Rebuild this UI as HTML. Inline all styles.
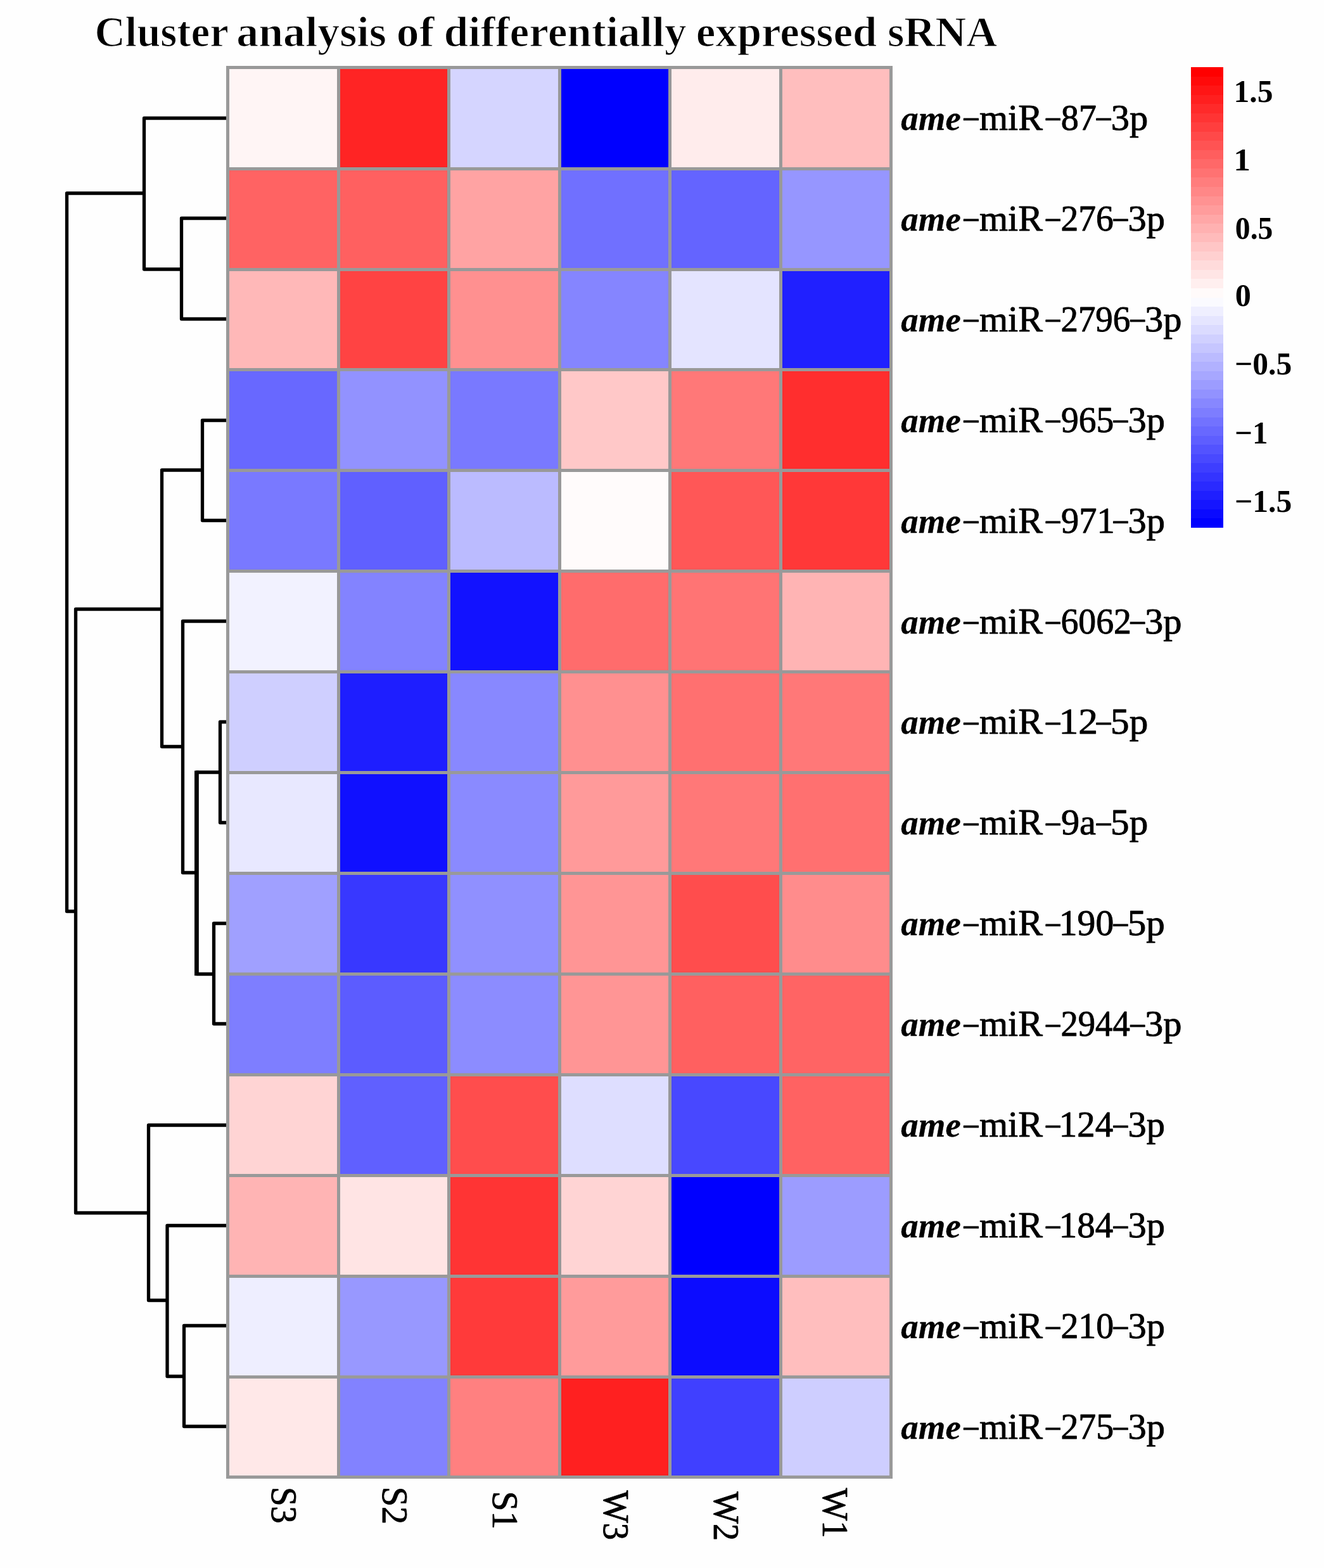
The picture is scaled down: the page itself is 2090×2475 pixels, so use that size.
<!DOCTYPE html>
<html lang="en"><head><meta charset="utf-8"><title>Cluster analysis of differentially expressed sRNA</title>
<style>
html,body{margin:0;padding:0;background:#fff;}
body{width:2090px;height:2475px;overflow:hidden;}
svg{display:block;}
text{font-family:"Liberation Serif",serif;fill:#000;}
.b{font-weight:bold;}
.bi{font-weight:bold;font-style:italic;}
.d{fill:none;stroke:#000;stroke-width:5.3;stroke-linejoin:round;stroke-linecap:butt;}
</style></head><body>
<svg width="2090" height="2475" viewBox="0 0 2090 2475">
<rect x="0" y="0" width="2090" height="2475" fill="#fefefe"/>
<text><tspan class="b" font-size="67.5" stroke="#fefefe" stroke-width="1.20" stroke-linejoin="round" x="149.39" y="72.90" textLength="211.46" lengthAdjust="spacingAndGlyphs">Cluster</tspan> <tspan class="b" font-size="67.5" stroke="#fefefe" stroke-width="1.20" stroke-linejoin="round" x="373.31" y="72.90" textLength="236.58" lengthAdjust="spacingAndGlyphs">analysis</tspan> <tspan class="b" font-size="67.5" stroke="#fefefe" stroke-width="1.20" stroke-linejoin="round" x="625.89" y="72.90" textLength="59.65" lengthAdjust="spacingAndGlyphs">of</tspan> <tspan class="b" font-size="67.5" stroke="#fefefe" stroke-width="1.20" stroke-linejoin="round" x="700.83" y="72.90" textLength="382.71" lengthAdjust="spacingAndGlyphs">differentially</tspan> <tspan class="b" font-size="67.5" stroke="#fefefe" stroke-width="1.20" stroke-linejoin="round" x="1098.73" y="72.90" textLength="285.53" lengthAdjust="spacingAndGlyphs">expressed</tspan> <tspan class="b" font-size="67.5" stroke="#fefefe" stroke-width="1.20" stroke-linejoin="round" x="1400.97" y="72.90" textLength="173.22" lengthAdjust="spacingAndGlyphs">sRNA</tspan></text>
<g shape-rendering="crispEdges">
<rect x="359.5" y="106.5" width="175.0" height="160.0" fill="#FFF5F5"/>
<rect x="534.5" y="106.5" width="174.0" height="160.0" fill="#FF2424"/>
<rect x="708.5" y="106.5" width="175.0" height="160.0" fill="#D5D5FF"/>
<rect x="883.5" y="106.5" width="174.0" height="160.0" fill="#0000FF"/>
<rect x="1057.5" y="106.5" width="175.0" height="160.0" fill="#FFECEC"/>
<rect x="1232.5" y="106.5" width="174.0" height="160.0" fill="#FFBEBE"/>
<rect x="359.5" y="266.5" width="175.0" height="159.0" fill="#FF6363"/>
<rect x="534.5" y="266.5" width="174.0" height="159.0" fill="#FF6060"/>
<rect x="708.5" y="266.5" width="175.0" height="159.0" fill="#FFA3A3"/>
<rect x="883.5" y="266.5" width="174.0" height="159.0" fill="#7070FF"/>
<rect x="1057.5" y="266.5" width="175.0" height="159.0" fill="#6464FF"/>
<rect x="1232.5" y="266.5" width="174.0" height="159.0" fill="#9696FF"/>
<rect x="359.5" y="425.5" width="175.0" height="158.0" fill="#FFB8B8"/>
<rect x="534.5" y="425.5" width="174.0" height="158.0" fill="#FF4343"/>
<rect x="708.5" y="425.5" width="175.0" height="158.0" fill="#FF9090"/>
<rect x="883.5" y="425.5" width="174.0" height="158.0" fill="#8585FF"/>
<rect x="1057.5" y="425.5" width="175.0" height="158.0" fill="#E4E4FF"/>
<rect x="1232.5" y="425.5" width="174.0" height="158.0" fill="#2020FF"/>
<rect x="359.5" y="583.5" width="175.0" height="159.0" fill="#6868FF"/>
<rect x="534.5" y="583.5" width="174.0" height="159.0" fill="#9292FF"/>
<rect x="708.5" y="583.5" width="175.0" height="159.0" fill="#7979FF"/>
<rect x="883.5" y="583.5" width="174.0" height="159.0" fill="#FFC8C8"/>
<rect x="1057.5" y="583.5" width="175.0" height="159.0" fill="#FF7878"/>
<rect x="1232.5" y="583.5" width="174.0" height="159.0" fill="#FF2E2E"/>
<rect x="359.5" y="742.5" width="175.0" height="159.0" fill="#7979FF"/>
<rect x="534.5" y="742.5" width="174.0" height="159.0" fill="#6060FF"/>
<rect x="708.5" y="742.5" width="175.0" height="159.0" fill="#BBBBFF"/>
<rect x="883.5" y="742.5" width="174.0" height="159.0" fill="#FFFBFB"/>
<rect x="1057.5" y="742.5" width="175.0" height="159.0" fill="#FF5757"/>
<rect x="1232.5" y="742.5" width="174.0" height="159.0" fill="#FF3838"/>
<rect x="359.5" y="901.5" width="175.0" height="159.0" fill="#F2F2FF"/>
<rect x="534.5" y="901.5" width="174.0" height="159.0" fill="#8383FF"/>
<rect x="708.5" y="901.5" width="175.0" height="159.0" fill="#1212FF"/>
<rect x="883.5" y="901.5" width="174.0" height="159.0" fill="#FF6C6C"/>
<rect x="1057.5" y="901.5" width="175.0" height="159.0" fill="#FF7474"/>
<rect x="1232.5" y="901.5" width="174.0" height="159.0" fill="#FFB4B4"/>
<rect x="359.5" y="1060.5" width="175.0" height="159.0" fill="#CFCFFF"/>
<rect x="534.5" y="1060.5" width="174.0" height="159.0" fill="#1E1EFF"/>
<rect x="708.5" y="1060.5" width="175.0" height="159.0" fill="#8888FF"/>
<rect x="883.5" y="1060.5" width="174.0" height="159.0" fill="#FF9090"/>
<rect x="1057.5" y="1060.5" width="175.0" height="159.0" fill="#FF7070"/>
<rect x="1232.5" y="1060.5" width="174.0" height="159.0" fill="#FF7878"/>
<rect x="359.5" y="1219.5" width="175.0" height="159.0" fill="#E8E8FF"/>
<rect x="534.5" y="1219.5" width="174.0" height="159.0" fill="#1010FF"/>
<rect x="708.5" y="1219.5" width="175.0" height="159.0" fill="#8A8AFF"/>
<rect x="883.5" y="1219.5" width="174.0" height="159.0" fill="#FF9A9A"/>
<rect x="1057.5" y="1219.5" width="175.0" height="159.0" fill="#FF7878"/>
<rect x="1232.5" y="1219.5" width="174.0" height="159.0" fill="#FF7070"/>
<rect x="359.5" y="1378.5" width="175.0" height="159.0" fill="#A0A0FF"/>
<rect x="534.5" y="1378.5" width="174.0" height="159.0" fill="#3838FF"/>
<rect x="708.5" y="1378.5" width="175.0" height="159.0" fill="#9090FF"/>
<rect x="883.5" y="1378.5" width="174.0" height="159.0" fill="#FF9595"/>
<rect x="1057.5" y="1378.5" width="175.0" height="159.0" fill="#FF4D4D"/>
<rect x="1232.5" y="1378.5" width="174.0" height="159.0" fill="#FF8C8C"/>
<rect x="359.5" y="1537.5" width="175.0" height="159.0" fill="#7E7EFF"/>
<rect x="534.5" y="1537.5" width="174.0" height="159.0" fill="#5C5CFF"/>
<rect x="708.5" y="1537.5" width="175.0" height="159.0" fill="#8C8CFF"/>
<rect x="883.5" y="1537.5" width="174.0" height="159.0" fill="#FF9595"/>
<rect x="1057.5" y="1537.5" width="175.0" height="159.0" fill="#FF6060"/>
<rect x="1232.5" y="1537.5" width="174.0" height="159.0" fill="#FF6464"/>
<rect x="359.5" y="1696.5" width="175.0" height="159.0" fill="#FFD4D4"/>
<rect x="534.5" y="1696.5" width="174.0" height="159.0" fill="#6060FF"/>
<rect x="708.5" y="1696.5" width="175.0" height="159.0" fill="#FF4D4D"/>
<rect x="883.5" y="1696.5" width="174.0" height="159.0" fill="#DEDEFF"/>
<rect x="1057.5" y="1696.5" width="175.0" height="159.0" fill="#4848FF"/>
<rect x="1232.5" y="1696.5" width="174.0" height="159.0" fill="#FF6262"/>
<rect x="359.5" y="1855.5" width="175.0" height="159.0" fill="#FFB4B4"/>
<rect x="534.5" y="1855.5" width="174.0" height="159.0" fill="#FFE4E4"/>
<rect x="708.5" y="1855.5" width="175.0" height="159.0" fill="#FF3434"/>
<rect x="883.5" y="1855.5" width="174.0" height="159.0" fill="#FFD4D4"/>
<rect x="1057.5" y="1855.5" width="175.0" height="159.0" fill="#0000FF"/>
<rect x="1232.5" y="1855.5" width="174.0" height="159.0" fill="#9C9CFF"/>
<rect x="359.5" y="2014.5" width="175.0" height="159.0" fill="#EEEEFF"/>
<rect x="534.5" y="2014.5" width="174.0" height="159.0" fill="#9898FF"/>
<rect x="708.5" y="2014.5" width="175.0" height="159.0" fill="#FF3A3A"/>
<rect x="883.5" y="2014.5" width="174.0" height="159.0" fill="#FF9B9B"/>
<rect x="1057.5" y="2014.5" width="175.0" height="159.0" fill="#0C0CFF"/>
<rect x="1232.5" y="2014.5" width="174.0" height="159.0" fill="#FFBEBE"/>
<rect x="359.5" y="2173.5" width="175.0" height="158.0" fill="#FFE8E8"/>
<rect x="534.5" y="2173.5" width="174.0" height="158.0" fill="#8282FF"/>
<rect x="708.5" y="2173.5" width="175.0" height="158.0" fill="#FF8080"/>
<rect x="883.5" y="2173.5" width="174.0" height="158.0" fill="#FF2020"/>
<rect x="1057.5" y="2173.5" width="175.0" height="158.0" fill="#4040FF"/>
<rect x="1232.5" y="2173.5" width="174.0" height="158.0" fill="#CECEFF"/>
<path d="M359.5 104.0V2334.0M534.5 104.0V2334.0M708.5 104.0V2334.0M883.5 104.0V2334.0M1057.5 104.0V2334.0M1232.5 104.0V2334.0M1406.5 104.0V2334.0M357.0 106.5H1409.0M357.0 266.5H1409.0M357.0 425.5H1409.0M357.0 583.5H1409.0M357.0 742.5H1409.0M357.0 901.5H1409.0M357.0 1060.5H1409.0M357.0 1219.5H1409.0M357.0 1378.5H1409.0M357.0 1537.5H1409.0M357.0 1696.5H1409.0M357.0 1855.5H1409.0M357.0 2014.5H1409.0M357.0 2173.5H1409.0M357.0 2331.5H1409.0" fill="none" stroke="#999999" stroke-width="5"/>
</g>
<path class="d" d="M357.0 344.5H286.5V503.5H357.0M357.0 186.5H227.5V425.0H286.5M357.0 663.5H319.5V821.5H357.0M357.0 1139.5H347.5V1298.5H357.0M357.0 1457.5H337.5V1616.0H357.0M347.5 1219.0H310.5V1537.5H337.5M357.0 980.5H288.5V1377.5H310.5M319.5 742.0H255.5V1178.5H288.5M357.0 2092.5H290.5V2251.5H357.0M357.0 1934.5H264.0V2172.5H290.5M357.0 1776.0H234.5V2052.5H264.0M255.5 961.5H119.5V1914.5H234.5M227.5 305.0H105.5V1438.5H119.5"/>
<path d="M310.4 1216.5V1540" fill="none" stroke="#000" stroke-width="6.8"/>
<text><tspan class="bi" font-size="54.0" stroke="#000" stroke-width="0.30" stroke-linejoin="round" x="1422.30" y="204.86" textLength="94.48" lengthAdjust="spacingAndGlyphs">ame</tspan><tspan font-size="57.0" stroke="#000" stroke-width="0.90" stroke-linejoin="round" x="1518.57" y="207.46" textLength="28.61" lengthAdjust="spacingAndGlyphs">−</tspan><tspan font-size="57.0" stroke="#000" stroke-width="0.90" stroke-linejoin="round" x="1545.99" y="204.86" textLength="99.89" lengthAdjust="spacingAndGlyphs">miR</tspan><tspan font-size="57.0" stroke="#000" stroke-width="0.90" stroke-linejoin="round" x="1648.13" y="207.46" textLength="27.78" lengthAdjust="spacingAndGlyphs">−</tspan><tspan font-size="57.0" stroke="#000" stroke-width="0.90" stroke-linejoin="round" x="1674.68" y="204.86" textLength="56.28" lengthAdjust="spacingAndGlyphs">87</tspan><tspan font-size="57.0" stroke="#000" stroke-width="0.90" stroke-linejoin="round" x="1728.10" y="207.46" textLength="28.14" lengthAdjust="spacingAndGlyphs">−</tspan><tspan font-size="57.0" stroke="#000" stroke-width="0.90" stroke-linejoin="round" x="1753.72" y="204.86" textLength="58.48" lengthAdjust="spacingAndGlyphs">3p</tspan></text>
<text><tspan class="bi" font-size="54.0" stroke="#000" stroke-width="0.30" stroke-linejoin="round" x="1422.30" y="363.79" textLength="94.48" lengthAdjust="spacingAndGlyphs">ame</tspan><tspan font-size="57.0" stroke="#000" stroke-width="0.90" stroke-linejoin="round" x="1518.57" y="366.39" textLength="28.61" lengthAdjust="spacingAndGlyphs">−</tspan><tspan font-size="57.0" stroke="#000" stroke-width="0.90" stroke-linejoin="round" x="1545.99" y="363.79" textLength="99.89" lengthAdjust="spacingAndGlyphs">miR</tspan><tspan font-size="57.0" stroke="#000" stroke-width="0.90" stroke-linejoin="round" x="1648.13" y="366.39" textLength="27.78" lengthAdjust="spacingAndGlyphs">−</tspan><tspan font-size="57.0" stroke="#000" stroke-width="0.90" stroke-linejoin="round" x="1674.43" y="363.79" textLength="83.21" lengthAdjust="spacingAndGlyphs">276</tspan><tspan font-size="57.0" stroke="#000" stroke-width="0.90" stroke-linejoin="round" x="1754.80" y="366.39" textLength="28.14" lengthAdjust="spacingAndGlyphs">−</tspan><tspan font-size="57.0" stroke="#000" stroke-width="0.90" stroke-linejoin="round" x="1780.42" y="363.79" textLength="58.48" lengthAdjust="spacingAndGlyphs">3p</tspan></text>
<text><tspan class="bi" font-size="54.0" stroke="#000" stroke-width="0.30" stroke-linejoin="round" x="1422.30" y="522.72" textLength="94.48" lengthAdjust="spacingAndGlyphs">ame</tspan><tspan font-size="57.0" stroke="#000" stroke-width="0.90" stroke-linejoin="round" x="1518.57" y="525.32" textLength="28.61" lengthAdjust="spacingAndGlyphs">−</tspan><tspan font-size="57.0" stroke="#000" stroke-width="0.90" stroke-linejoin="round" x="1545.99" y="522.72" textLength="99.89" lengthAdjust="spacingAndGlyphs">miR</tspan><tspan font-size="57.0" stroke="#000" stroke-width="0.90" stroke-linejoin="round" x="1648.13" y="525.32" textLength="27.78" lengthAdjust="spacingAndGlyphs">−</tspan><tspan font-size="57.0" stroke="#000" stroke-width="0.90" stroke-linejoin="round" x="1674.45" y="522.72" textLength="109.87" lengthAdjust="spacingAndGlyphs">2796</tspan><tspan font-size="57.0" stroke="#000" stroke-width="0.90" stroke-linejoin="round" x="1781.50" y="525.32" textLength="28.14" lengthAdjust="spacingAndGlyphs">−</tspan><tspan font-size="57.0" stroke="#000" stroke-width="0.90" stroke-linejoin="round" x="1807.12" y="522.72" textLength="58.48" lengthAdjust="spacingAndGlyphs">3p</tspan></text>
<text><tspan class="bi" font-size="54.0" stroke="#000" stroke-width="0.30" stroke-linejoin="round" x="1422.30" y="681.65" textLength="94.48" lengthAdjust="spacingAndGlyphs">ame</tspan><tspan font-size="57.0" stroke="#000" stroke-width="0.90" stroke-linejoin="round" x="1518.57" y="684.25" textLength="28.61" lengthAdjust="spacingAndGlyphs">−</tspan><tspan font-size="57.0" stroke="#000" stroke-width="0.90" stroke-linejoin="round" x="1545.99" y="681.65" textLength="99.89" lengthAdjust="spacingAndGlyphs">miR</tspan><tspan font-size="57.0" stroke="#000" stroke-width="0.90" stroke-linejoin="round" x="1648.13" y="684.25" textLength="27.78" lengthAdjust="spacingAndGlyphs">−</tspan><tspan font-size="57.0" stroke="#000" stroke-width="0.90" stroke-linejoin="round" x="1674.99" y="681.65" textLength="83.21" lengthAdjust="spacingAndGlyphs">965</tspan><tspan font-size="57.0" stroke="#000" stroke-width="0.90" stroke-linejoin="round" x="1754.80" y="684.25" textLength="28.14" lengthAdjust="spacingAndGlyphs">−</tspan><tspan font-size="57.0" stroke="#000" stroke-width="0.90" stroke-linejoin="round" x="1780.42" y="681.65" textLength="58.48" lengthAdjust="spacingAndGlyphs">3p</tspan></text>
<text><tspan class="bi" font-size="54.0" stroke="#000" stroke-width="0.30" stroke-linejoin="round" x="1422.30" y="840.58" textLength="94.48" lengthAdjust="spacingAndGlyphs">ame</tspan><tspan font-size="57.0" stroke="#000" stroke-width="0.90" stroke-linejoin="round" x="1518.57" y="843.18" textLength="28.61" lengthAdjust="spacingAndGlyphs">−</tspan><tspan font-size="57.0" stroke="#000" stroke-width="0.90" stroke-linejoin="round" x="1545.99" y="840.58" textLength="99.89" lengthAdjust="spacingAndGlyphs">miR</tspan><tspan font-size="57.0" stroke="#000" stroke-width="0.90" stroke-linejoin="round" x="1648.13" y="843.18" textLength="27.78" lengthAdjust="spacingAndGlyphs">−</tspan><tspan font-size="57.0" stroke="#000" stroke-width="0.90" stroke-linejoin="round" x="1674.96" y="840.58" textLength="84.68" lengthAdjust="spacingAndGlyphs">971</tspan><tspan font-size="57.0" stroke="#000" stroke-width="0.90" stroke-linejoin="round" x="1754.80" y="843.18" textLength="28.14" lengthAdjust="spacingAndGlyphs">−</tspan><tspan font-size="57.0" stroke="#000" stroke-width="0.90" stroke-linejoin="round" x="1780.42" y="840.58" textLength="58.48" lengthAdjust="spacingAndGlyphs">3p</tspan></text>
<text><tspan class="bi" font-size="54.0" stroke="#000" stroke-width="0.30" stroke-linejoin="round" x="1422.30" y="999.51" textLength="94.48" lengthAdjust="spacingAndGlyphs">ame</tspan><tspan font-size="57.0" stroke="#000" stroke-width="0.90" stroke-linejoin="round" x="1518.57" y="1002.11" textLength="28.61" lengthAdjust="spacingAndGlyphs">−</tspan><tspan font-size="57.0" stroke="#000" stroke-width="0.90" stroke-linejoin="round" x="1545.99" y="999.51" textLength="99.89" lengthAdjust="spacingAndGlyphs">miR</tspan><tspan font-size="57.0" stroke="#000" stroke-width="0.90" stroke-linejoin="round" x="1648.13" y="1002.11" textLength="27.78" lengthAdjust="spacingAndGlyphs">−</tspan><tspan font-size="57.0" stroke="#000" stroke-width="0.90" stroke-linejoin="round" x="1674.42" y="999.51" textLength="111.60" lengthAdjust="spacingAndGlyphs">6062</tspan><tspan font-size="57.0" stroke="#000" stroke-width="0.90" stroke-linejoin="round" x="1781.50" y="1002.11" textLength="28.14" lengthAdjust="spacingAndGlyphs">−</tspan><tspan font-size="57.0" stroke="#000" stroke-width="0.90" stroke-linejoin="round" x="1807.12" y="999.51" textLength="58.48" lengthAdjust="spacingAndGlyphs">3p</tspan></text>
<text><tspan class="bi" font-size="54.0" stroke="#000" stroke-width="0.30" stroke-linejoin="round" x="1422.30" y="1158.44" textLength="94.48" lengthAdjust="spacingAndGlyphs">ame</tspan><tspan font-size="57.0" stroke="#000" stroke-width="0.90" stroke-linejoin="round" x="1518.57" y="1161.04" textLength="28.61" lengthAdjust="spacingAndGlyphs">−</tspan><tspan font-size="57.0" stroke="#000" stroke-width="0.90" stroke-linejoin="round" x="1545.99" y="1158.44" textLength="99.89" lengthAdjust="spacingAndGlyphs">miR</tspan><tspan font-size="57.0" stroke="#000" stroke-width="0.90" stroke-linejoin="round" x="1648.13" y="1161.04" textLength="27.78" lengthAdjust="spacingAndGlyphs">−</tspan><tspan font-size="57.0" stroke="#000" stroke-width="0.90" stroke-linejoin="round" x="1671.42" y="1158.44" textLength="61.51" lengthAdjust="spacingAndGlyphs">12</tspan><tspan font-size="57.0" stroke="#000" stroke-width="0.90" stroke-linejoin="round" x="1728.10" y="1161.04" textLength="28.14" lengthAdjust="spacingAndGlyphs">−</tspan><tspan font-size="57.0" stroke="#000" stroke-width="0.90" stroke-linejoin="round" x="1753.10" y="1158.44" textLength="59.12" lengthAdjust="spacingAndGlyphs">5p</tspan></text>
<text><tspan class="bi" font-size="54.0" stroke="#000" stroke-width="0.30" stroke-linejoin="round" x="1422.30" y="1317.36" textLength="94.48" lengthAdjust="spacingAndGlyphs">ame</tspan><tspan font-size="57.0" stroke="#000" stroke-width="0.90" stroke-linejoin="round" x="1518.57" y="1319.96" textLength="28.61" lengthAdjust="spacingAndGlyphs">−</tspan><tspan font-size="57.0" stroke="#000" stroke-width="0.90" stroke-linejoin="round" x="1545.99" y="1317.36" textLength="99.89" lengthAdjust="spacingAndGlyphs">miR</tspan><tspan font-size="57.0" stroke="#000" stroke-width="0.90" stroke-linejoin="round" x="1648.13" y="1319.96" textLength="27.78" lengthAdjust="spacingAndGlyphs">−</tspan><tspan font-size="57.0" stroke="#000" stroke-width="0.90" stroke-linejoin="round" x="1674.90" y="1317.36" textLength="55.17" lengthAdjust="spacingAndGlyphs">9a</tspan><tspan font-size="57.0" stroke="#000" stroke-width="0.90" stroke-linejoin="round" x="1728.10" y="1319.96" textLength="28.14" lengthAdjust="spacingAndGlyphs">−</tspan><tspan font-size="57.0" stroke="#000" stroke-width="0.90" stroke-linejoin="round" x="1753.10" y="1317.36" textLength="59.12" lengthAdjust="spacingAndGlyphs">5p</tspan></text>
<text><tspan class="bi" font-size="54.0" stroke="#000" stroke-width="0.30" stroke-linejoin="round" x="1422.30" y="1476.29" textLength="94.48" lengthAdjust="spacingAndGlyphs">ame</tspan><tspan font-size="57.0" stroke="#000" stroke-width="0.90" stroke-linejoin="round" x="1518.57" y="1478.89" textLength="28.61" lengthAdjust="spacingAndGlyphs">−</tspan><tspan font-size="57.0" stroke="#000" stroke-width="0.90" stroke-linejoin="round" x="1545.99" y="1476.29" textLength="99.89" lengthAdjust="spacingAndGlyphs">miR</tspan><tspan font-size="57.0" stroke="#000" stroke-width="0.90" stroke-linejoin="round" x="1648.13" y="1478.89" textLength="27.78" lengthAdjust="spacingAndGlyphs">−</tspan><tspan font-size="57.0" stroke="#000" stroke-width="0.90" stroke-linejoin="round" x="1671.75" y="1476.29" textLength="86.52" lengthAdjust="spacingAndGlyphs">190</tspan><tspan font-size="57.0" stroke="#000" stroke-width="0.90" stroke-linejoin="round" x="1754.80" y="1478.89" textLength="28.14" lengthAdjust="spacingAndGlyphs">−</tspan><tspan font-size="57.0" stroke="#000" stroke-width="0.90" stroke-linejoin="round" x="1779.80" y="1476.29" textLength="59.12" lengthAdjust="spacingAndGlyphs">5p</tspan></text>
<text><tspan class="bi" font-size="54.0" stroke="#000" stroke-width="0.30" stroke-linejoin="round" x="1422.30" y="1635.22" textLength="94.48" lengthAdjust="spacingAndGlyphs">ame</tspan><tspan font-size="57.0" stroke="#000" stroke-width="0.90" stroke-linejoin="round" x="1518.57" y="1637.82" textLength="28.61" lengthAdjust="spacingAndGlyphs">−</tspan><tspan font-size="57.0" stroke="#000" stroke-width="0.90" stroke-linejoin="round" x="1545.99" y="1635.22" textLength="99.89" lengthAdjust="spacingAndGlyphs">miR</tspan><tspan font-size="57.0" stroke="#000" stroke-width="0.90" stroke-linejoin="round" x="1648.13" y="1637.82" textLength="27.78" lengthAdjust="spacingAndGlyphs">−</tspan><tspan font-size="57.0" stroke="#000" stroke-width="0.90" stroke-linejoin="round" x="1674.46" y="1635.22" textLength="109.31" lengthAdjust="spacingAndGlyphs">2944</tspan><tspan font-size="57.0" stroke="#000" stroke-width="0.90" stroke-linejoin="round" x="1781.50" y="1637.82" textLength="28.14" lengthAdjust="spacingAndGlyphs">−</tspan><tspan font-size="57.0" stroke="#000" stroke-width="0.90" stroke-linejoin="round" x="1807.12" y="1635.22" textLength="58.48" lengthAdjust="spacingAndGlyphs">3p</tspan></text>
<text><tspan class="bi" font-size="54.0" stroke="#000" stroke-width="0.30" stroke-linejoin="round" x="1422.30" y="1794.15" textLength="94.48" lengthAdjust="spacingAndGlyphs">ame</tspan><tspan font-size="57.0" stroke="#000" stroke-width="0.90" stroke-linejoin="round" x="1518.57" y="1796.75" textLength="28.61" lengthAdjust="spacingAndGlyphs">−</tspan><tspan font-size="57.0" stroke="#000" stroke-width="0.90" stroke-linejoin="round" x="1545.99" y="1794.15" textLength="99.89" lengthAdjust="spacingAndGlyphs">miR</tspan><tspan font-size="57.0" stroke="#000" stroke-width="0.90" stroke-linejoin="round" x="1648.13" y="1796.75" textLength="27.78" lengthAdjust="spacingAndGlyphs">−</tspan><tspan font-size="57.0" stroke="#000" stroke-width="0.90" stroke-linejoin="round" x="1671.82" y="1794.15" textLength="85.29" lengthAdjust="spacingAndGlyphs">124</tspan><tspan font-size="57.0" stroke="#000" stroke-width="0.90" stroke-linejoin="round" x="1754.80" y="1796.75" textLength="28.14" lengthAdjust="spacingAndGlyphs">−</tspan><tspan font-size="57.0" stroke="#000" stroke-width="0.90" stroke-linejoin="round" x="1780.42" y="1794.15" textLength="58.48" lengthAdjust="spacingAndGlyphs">3p</tspan></text>
<text><tspan class="bi" font-size="54.0" stroke="#000" stroke-width="0.30" stroke-linejoin="round" x="1422.30" y="1953.08" textLength="94.48" lengthAdjust="spacingAndGlyphs">ame</tspan><tspan font-size="57.0" stroke="#000" stroke-width="0.90" stroke-linejoin="round" x="1518.57" y="1955.68" textLength="28.61" lengthAdjust="spacingAndGlyphs">−</tspan><tspan font-size="57.0" stroke="#000" stroke-width="0.90" stroke-linejoin="round" x="1545.99" y="1953.08" textLength="99.89" lengthAdjust="spacingAndGlyphs">miR</tspan><tspan font-size="57.0" stroke="#000" stroke-width="0.90" stroke-linejoin="round" x="1648.13" y="1955.68" textLength="27.78" lengthAdjust="spacingAndGlyphs">−</tspan><tspan font-size="57.0" stroke="#000" stroke-width="0.90" stroke-linejoin="round" x="1671.82" y="1953.08" textLength="85.29" lengthAdjust="spacingAndGlyphs">184</tspan><tspan font-size="57.0" stroke="#000" stroke-width="0.90" stroke-linejoin="round" x="1754.80" y="1955.68" textLength="28.14" lengthAdjust="spacingAndGlyphs">−</tspan><tspan font-size="57.0" stroke="#000" stroke-width="0.90" stroke-linejoin="round" x="1780.42" y="1953.08" textLength="58.48" lengthAdjust="spacingAndGlyphs">3p</tspan></text>
<text><tspan class="bi" font-size="54.0" stroke="#000" stroke-width="0.30" stroke-linejoin="round" x="1422.30" y="2112.01" textLength="94.48" lengthAdjust="spacingAndGlyphs">ame</tspan><tspan font-size="57.0" stroke="#000" stroke-width="0.90" stroke-linejoin="round" x="1518.57" y="2114.61" textLength="28.61" lengthAdjust="spacingAndGlyphs">−</tspan><tspan font-size="57.0" stroke="#000" stroke-width="0.90" stroke-linejoin="round" x="1545.99" y="2112.01" textLength="99.89" lengthAdjust="spacingAndGlyphs">miR</tspan><tspan font-size="57.0" stroke="#000" stroke-width="0.90" stroke-linejoin="round" x="1648.13" y="2114.61" textLength="27.78" lengthAdjust="spacingAndGlyphs">−</tspan><tspan font-size="57.0" stroke="#000" stroke-width="0.90" stroke-linejoin="round" x="1674.42" y="2112.01" textLength="83.79" lengthAdjust="spacingAndGlyphs">210</tspan><tspan font-size="57.0" stroke="#000" stroke-width="0.90" stroke-linejoin="round" x="1754.80" y="2114.61" textLength="28.14" lengthAdjust="spacingAndGlyphs">−</tspan><tspan font-size="57.0" stroke="#000" stroke-width="0.90" stroke-linejoin="round" x="1780.42" y="2112.01" textLength="58.48" lengthAdjust="spacingAndGlyphs">3p</tspan></text>
<text><tspan class="bi" font-size="54.0" stroke="#000" stroke-width="0.30" stroke-linejoin="round" x="1422.30" y="2270.94" textLength="94.48" lengthAdjust="spacingAndGlyphs">ame</tspan><tspan font-size="57.0" stroke="#000" stroke-width="0.90" stroke-linejoin="round" x="1518.57" y="2273.54" textLength="28.61" lengthAdjust="spacingAndGlyphs">−</tspan><tspan font-size="57.0" stroke="#000" stroke-width="0.90" stroke-linejoin="round" x="1545.99" y="2270.94" textLength="99.89" lengthAdjust="spacingAndGlyphs">miR</tspan><tspan font-size="57.0" stroke="#000" stroke-width="0.90" stroke-linejoin="round" x="1648.13" y="2273.54" textLength="27.78" lengthAdjust="spacingAndGlyphs">−</tspan><tspan font-size="57.0" stroke="#000" stroke-width="0.90" stroke-linejoin="round" x="1674.42" y="2270.94" textLength="83.79" lengthAdjust="spacingAndGlyphs">275</tspan><tspan font-size="57.0" stroke="#000" stroke-width="0.90" stroke-linejoin="round" x="1754.80" y="2273.54" textLength="28.14" lengthAdjust="spacingAndGlyphs">−</tspan><tspan font-size="57.0" stroke="#000" stroke-width="0.90" stroke-linejoin="round" x="1780.42" y="2270.94" textLength="58.48" lengthAdjust="spacingAndGlyphs">3p</tspan></text>
<text font-size="57.0" stroke="#000" stroke-width="0.90" stroke-linejoin="round" transform="translate(429.30 2346.89) rotate(90)" textLength="57.88" lengthAdjust="spacingAndGlyphs">S3</text>
<text font-size="57.0" stroke="#000" stroke-width="0.90" stroke-linejoin="round" transform="translate(604.00 2346.80) rotate(90)" textLength="59.34" lengthAdjust="spacingAndGlyphs">S2</text>
<text font-size="57.0" stroke="#000" stroke-width="0.90" stroke-linejoin="round" transform="translate(778.40 2353.42) rotate(90)" textLength="60.57" lengthAdjust="spacingAndGlyphs">S1</text>
<text font-size="57.0" stroke="#000" stroke-width="0.90" stroke-linejoin="round" transform="translate(952.80 2352.45) rotate(90)" textLength="78.61" lengthAdjust="spacingAndGlyphs">W3</text>
<text font-size="57.0" stroke="#000" stroke-width="0.90" stroke-linejoin="round" transform="translate(1127.30 2354.15) rotate(90)" textLength="77.97" lengthAdjust="spacingAndGlyphs">W2</text>
<text font-size="57.0" stroke="#000" stroke-width="0.90" stroke-linejoin="round" transform="translate(1299.20 2348.65) rotate(90)" textLength="78.88" lengthAdjust="spacingAndGlyphs">W1</text>
<g shape-rendering="crispEdges">
<rect x="1880.0" y="106.00" width="51.0" height="15.00" fill="#FF0000"/>
<rect x="1880.0" y="121.00" width="51.0" height="14.00" fill="#FF0A0A"/>
<rect x="1880.0" y="135.00" width="51.0" height="15.00" fill="#FF1515"/>
<rect x="1880.0" y="150.00" width="51.0" height="14.00" fill="#FF1F1F"/>
<rect x="1880.0" y="164.00" width="51.0" height="15.00" fill="#FF2A2A"/>
<rect x="1880.0" y="179.00" width="51.0" height="14.00" fill="#FF3434"/>
<rect x="1880.0" y="193.00" width="51.0" height="15.00" fill="#FF3E3E"/>
<rect x="1880.0" y="208.00" width="51.0" height="14.00" fill="#FF4949"/>
<rect x="1880.0" y="222.00" width="51.0" height="15.00" fill="#FF5353"/>
<rect x="1880.0" y="237.00" width="51.0" height="14.00" fill="#FF5E5E"/>
<rect x="1880.0" y="251.00" width="51.0" height="15.00" fill="#FF6868"/>
<rect x="1880.0" y="266.00" width="51.0" height="14.00" fill="#FF7272"/>
<rect x="1880.0" y="280.00" width="51.0" height="15.00" fill="#FF7D7D"/>
<rect x="1880.0" y="295.00" width="51.0" height="15.00" fill="#FF8787"/>
<rect x="1880.0" y="310.00" width="51.0" height="14.00" fill="#FF9292"/>
<rect x="1880.0" y="324.00" width="51.0" height="15.00" fill="#FF9C9C"/>
<rect x="1880.0" y="339.00" width="51.0" height="14.00" fill="#FFA7A7"/>
<rect x="1880.0" y="353.00" width="51.0" height="15.00" fill="#FFB1B1"/>
<rect x="1880.0" y="368.00" width="51.0" height="14.00" fill="#FFBBBB"/>
<rect x="1880.0" y="382.00" width="51.0" height="15.00" fill="#FFC6C6"/>
<rect x="1880.0" y="397.00" width="51.0" height="14.00" fill="#FFD0D0"/>
<rect x="1880.0" y="411.00" width="51.0" height="15.00" fill="#FFDBDB"/>
<rect x="1880.0" y="426.00" width="51.0" height="14.00" fill="#FFE5E5"/>
<rect x="1880.0" y="440.00" width="51.0" height="15.00" fill="#FFEFEF"/>
<rect x="1880.0" y="455.00" width="51.0" height="15.00" fill="#FFFAFA"/>
<rect x="1880.0" y="470.00" width="51.0" height="14.00" fill="#FAFAFF"/>
<rect x="1880.0" y="484.00" width="51.0" height="15.00" fill="#EFEFFF"/>
<rect x="1880.0" y="499.00" width="51.0" height="14.00" fill="#E5E5FF"/>
<rect x="1880.0" y="513.00" width="51.0" height="15.00" fill="#DBDBFF"/>
<rect x="1880.0" y="528.00" width="51.0" height="14.00" fill="#D0D0FF"/>
<rect x="1880.0" y="542.00" width="51.0" height="15.00" fill="#C6C6FF"/>
<rect x="1880.0" y="557.00" width="51.0" height="14.00" fill="#BBBBFF"/>
<rect x="1880.0" y="571.00" width="51.0" height="15.00" fill="#B1B1FF"/>
<rect x="1880.0" y="586.00" width="51.0" height="14.00" fill="#A7A7FF"/>
<rect x="1880.0" y="600.00" width="51.0" height="15.00" fill="#9C9CFF"/>
<rect x="1880.0" y="615.00" width="51.0" height="14.00" fill="#9292FF"/>
<rect x="1880.0" y="629.00" width="51.0" height="15.00" fill="#8787FF"/>
<rect x="1880.0" y="644.00" width="51.0" height="15.00" fill="#7D7DFF"/>
<rect x="1880.0" y="659.00" width="51.0" height="14.00" fill="#7272FF"/>
<rect x="1880.0" y="673.00" width="51.0" height="15.00" fill="#6868FF"/>
<rect x="1880.0" y="688.00" width="51.0" height="14.00" fill="#5E5EFF"/>
<rect x="1880.0" y="702.00" width="51.0" height="15.00" fill="#5353FF"/>
<rect x="1880.0" y="717.00" width="51.0" height="14.00" fill="#4949FF"/>
<rect x="1880.0" y="731.00" width="51.0" height="15.00" fill="#3E3EFF"/>
<rect x="1880.0" y="746.00" width="51.0" height="14.00" fill="#3434FF"/>
<rect x="1880.0" y="760.00" width="51.0" height="15.00" fill="#2A2AFF"/>
<rect x="1880.0" y="775.00" width="51.0" height="14.00" fill="#1F1FFF"/>
<rect x="1880.0" y="789.00" width="51.0" height="15.00" fill="#1515FF"/>
<rect x="1880.0" y="804.00" width="51.0" height="14.00" fill="#0A0AFF"/>
<rect x="1880.0" y="818.00" width="51.0" height="15.00" fill="#0000FF"/>
</g>
<text class="b" font-size="50.0" x="1947.54" y="161.30" textLength="61.89" lengthAdjust="spacingAndGlyphs">1.5</text>
<text class="b" font-size="50.0" x="1947.22" y="269.30" textLength="26.76" lengthAdjust="spacingAndGlyphs">1</text>
<text class="b" font-size="50.0" x="1949.83" y="377.30" textLength="59.53" lengthAdjust="spacingAndGlyphs">0.5</text>
<text class="b" font-size="50.0" x="1949.74" y="483.20" textLength="25.12" lengthAdjust="spacingAndGlyphs">0</text>
<text class="b" font-size="50.0" x="1949.02" y="591.40" textLength="90.21" lengthAdjust="spacingAndGlyphs">−0.5</text>
<text class="b" font-size="50.0" x="1949.05" y="699.50" textLength="52.51" lengthAdjust="spacingAndGlyphs">−1</text>
<text class="b" font-size="50.0" x="1949.02" y="807.60" textLength="90.21" lengthAdjust="spacingAndGlyphs">−1.5</text>
</svg>
</body></html>
